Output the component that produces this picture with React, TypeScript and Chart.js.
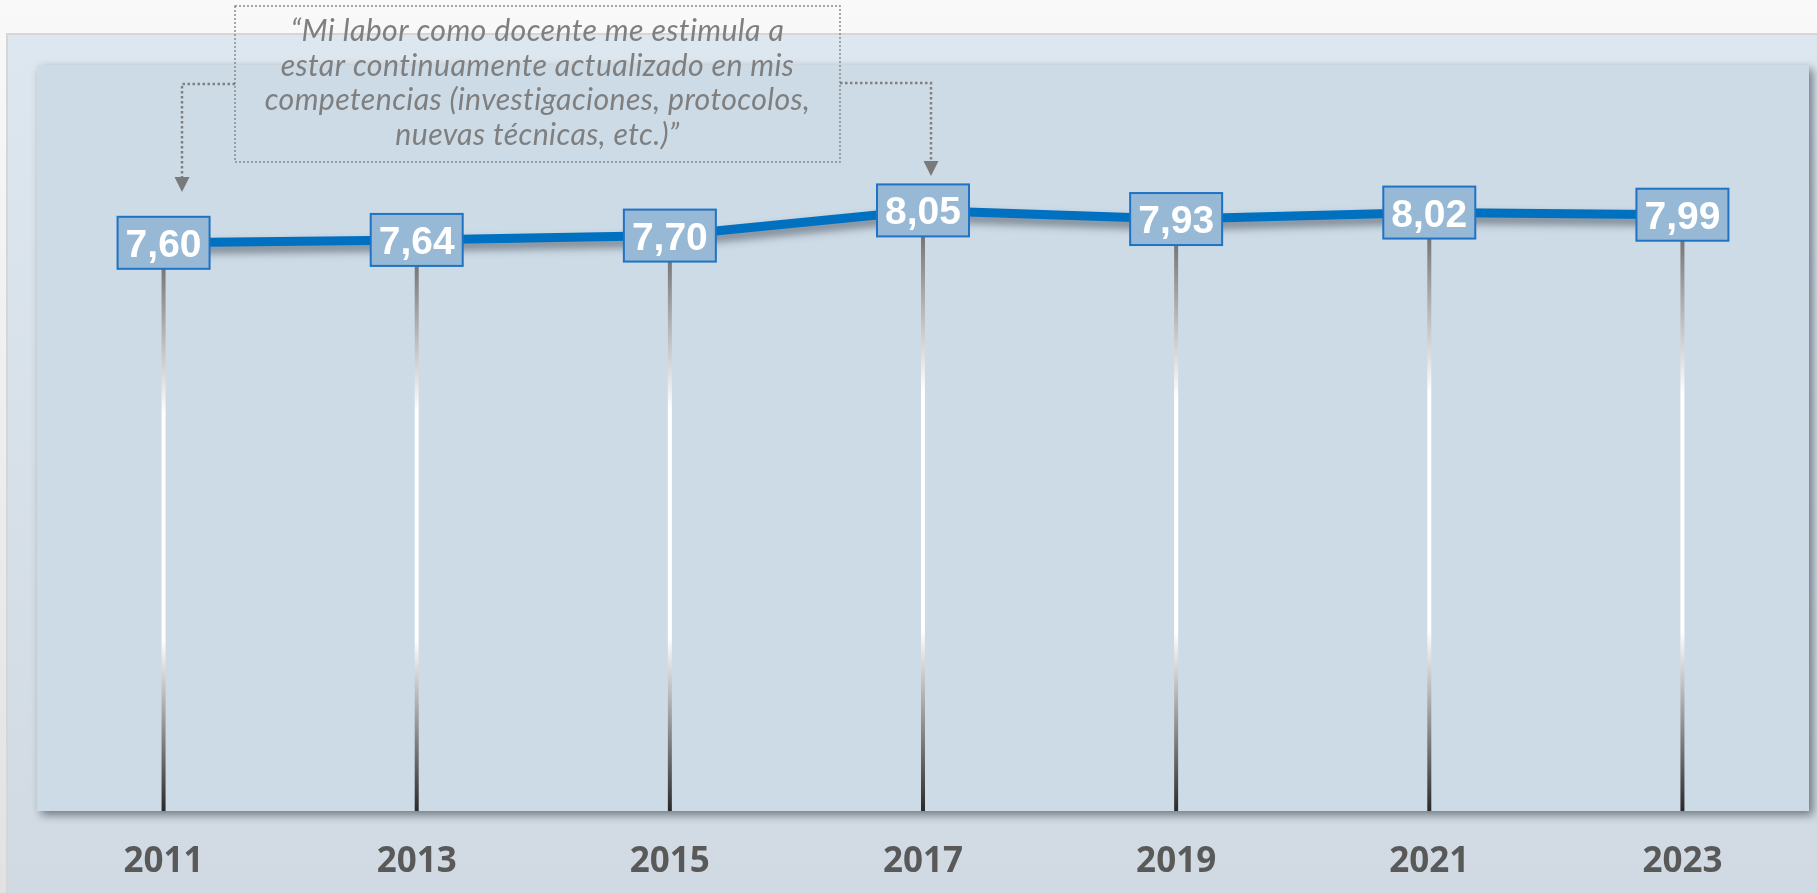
import React, { useEffect, useRef } from "react";
import { Chart, registerables } from "chart.js";

Chart.register(...registerables);

const years = ["2011", "2013", "2015", "2017", "2019", "2021", "2023"];
const scores = [7.6, 7.64, 7.7, 8.05, 7.93, 8.02, 7.99];
const quoteLines = [
  "“Mi labor como docente me estimula a",
  "estar continuamente actualizado en mis",
  "competencias (investigaciones, protocolos,",
  "nuevas técnicas, etc.)”",
];
const yMin = 0;
const yMax = 10;

const W = 1817;
const H = 893;

const fmt = (v: number) => v.toFixed(2).replace(".", ",");

const decorPlugin = {
  id: "decor",
  beforeDraw(chart: any) {
    const ctx = chart.ctx as CanvasRenderingContext2D;
    const { left, right, top, bottom } = chart.chartArea;
    ctx.save();
    let g = ctx.createLinearGradient(0, 0, 0, H);
    g.addColorStop(0, "#f9f9f9");
    g.addColorStop(1, "#e2e2e2");
    ctx.fillStyle = g;
    ctx.fillRect(0, 0, W, H);
    // outer panel
    ctx.fillStyle = "#d6d6d6";
    ctx.fillRect(6, 33, W, H);
    g = ctx.createLinearGradient(0, 35, 0, H);
    g.addColorStop(0, "#dde7f0");
    g.addColorStop(1, "#d1dae2");
    ctx.fillStyle = g;
    ctx.fillRect(8, 35, W, H);
    // inner plot panel
    const pTop = top - 5;
    const pBottom = bottom + 21;
    ctx.shadowColor = "rgba(55,65,75,0.65)";
    ctx.shadowBlur = 9;
    ctx.shadowOffsetX = 4;
    ctx.shadowOffsetY = 4;
    ctx.fillStyle = "#cddbe7";
    ctx.fillRect(left, pTop, right - left, pBottom - pTop);
    ctx.restore();
  },
  beforeDatasetsDraw(chart: any) {
    const ctx = chart.ctx as CanvasRenderingContext2D;
    const pBottom = chart.chartArea.bottom + 21;
    const meta = chart.getDatasetMeta(0);
    ctx.save();
    meta.data.forEach((pt: any) => {
      const g = ctx.createLinearGradient(0, pt.y, 0, pBottom);
      g.addColorStop(0, "#5f5f5f");
      g.addColorStop(0.3, "#ffffff");
      g.addColorStop(0.7, "#ffffff");
      g.addColorStop(1, "#2a2a2a");
      ctx.strokeStyle = g;
      ctx.lineWidth = 4;
      ctx.beginPath();
      ctx.moveTo(pt.x, pt.y);
      ctx.lineTo(pt.x, pBottom);
      ctx.stroke();
    });
    ctx.restore();
  },
  beforeDatasetDraw(chart: any) {
    const ctx = chart.ctx as CanvasRenderingContext2D;
    ctx.save();
    ctx.shadowColor = "rgba(40,50,60,0.55)";
    ctx.shadowBlur = 8;
    ctx.shadowOffsetY = 6;
  },
  afterDatasetDraw(chart: any) {
    chart.ctx.restore();
  },
  afterDatasetsDraw(chart: any) {
    const ctx = chart.ctx as CanvasRenderingContext2D;
    const meta = chart.getDatasetMeta(0);
    const ds = chart.data.datasets[0].data as number[];
    ctx.save();
    meta.data.forEach((pt: any, i: number) => {
      const bw = 92;
      const bh = 52;
      ctx.fillStyle = "#97b9d5";
      ctx.fillRect(pt.x - bw / 2, pt.y - bh / 2, bw, bh);
      ctx.strokeStyle = "#1f73c4";
      ctx.lineWidth = 2;
      ctx.strokeRect(pt.x - bw / 2, pt.y - bh / 2, bw, bh);
      ctx.fillStyle = "#ffffff";
      ctx.font = "bold 39px 'Liberation Sans', Arial, sans-serif";
      ctx.textAlign = "center";
      ctx.textBaseline = "alphabetic";
      ctx.fillText(fmt(ds[i]), pt.x, pt.y + 39 * 0.358);
    });
    ctx.restore();
  },
  afterDraw(chart: any) {
    const ctx = chart.ctx as CanvasRenderingContext2D;
    ctx.save();
    // quote box
    const bx0 = 235, bx1 = 840, by0 = 6, by1 = 162;
    ctx.setLineDash([2, 2]);
    ctx.strokeStyle = "#8a8a8a";
    ctx.lineWidth = 1.5;
    ctx.strokeRect(bx0, by0, bx1 - bx0, by1 - by0);
    // text
    (ctx as any).letterSpacing = "0.4px";
    let size = 28;
    ctx.font = `italic ${size}px Lato, 'Open Sans', sans-serif`;
    const wRef = ctx.measureText(quoteLines[2]).width;
    size = (size * 547) / wRef;
    ctx.font = `italic ${size}px Lato, 'Open Sans', sans-serif`;
    ctx.fillStyle = "#7f7f7f";
    ctx.textAlign = "center";
    ctx.textBaseline = "alphabetic";
    const cx = (bx0 + bx1) / 2;
    const baselines = [41, 76, 110, 145];
    quoteLines.forEach((t, i) => ctx.fillText(t, cx, baselines[i]));
    (ctx as any).letterSpacing = "0px";
    // connectors
    ctx.strokeStyle = "#808080";
    ctx.lineWidth = 2.5;
    ctx.setLineDash([2.5, 2.5]);
    const arrow = (xa: number, yTop: number) => {
      ctx.setLineDash([]);
      ctx.fillStyle = "#7a7a7a";
      ctx.beginPath();
      ctx.moveTo(xa - 7.5, yTop);
      ctx.lineTo(xa + 7.5, yTop);
      ctx.lineTo(xa, yTop + 15);
      ctx.closePath();
      ctx.fill();
      ctx.setLineDash([2.5, 2.5]);
    };
    // left
    ctx.beginPath();
    ctx.moveTo(bx0, 84);
    ctx.lineTo(182, 84);
    ctx.lineTo(182, 177);
    ctx.stroke();
    arrow(182, 177);
    // right
    ctx.beginPath();
    ctx.moveTo(bx1, 83);
    ctx.lineTo(931, 83);
    ctx.lineTo(931, 161);
    ctx.stroke();
    arrow(931, 161);
    ctx.restore();
  },
};

export default function App() {
  const ref = useRef<HTMLCanvasElement | null>(null);
  useEffect(() => {
    if (!ref.current) return;
    const chart = new Chart(ref.current, {
      type: "line",
      data: {
        labels: years,
        datasets: [
          {
            data: scores,
            borderColor: "#0070c0",
            borderWidth: 9,
            pointRadius: 0,
            pointHoverRadius: 0,
            tension: 0,
            fill: false,
            borderJoinStyle: "round",
          },
        ],
      },
      options: {
        animation: false,
        responsive: false,
        devicePixelRatio: 1,
        layout: { padding: { left: 37, right: 8, top: 70, bottom: 0 } },
        plugins: { legend: { display: false }, tooltip: { enabled: false } },
        scales: {
          x: {
            offset: true,
            grid: { display: false, drawTicks: false },
            border: { display: false },
            ticks: {
              color: "#595959",
              padding: 51,
              font: { family: "'Open Sans', sans-serif", size: 35, weight: "bold" },
            },
            afterFit: (s: any) => {
              s.height = 103;
            },
          },
          y: { display: false, min: yMin, max: yMax },
        },
      },
      plugins: [decorPlugin],
    } as any);
    return () => chart.destroy();
  }, []);
  return (
    <div style={{ position: "absolute", left: 0, top: 0, width: W, height: H }}>
      <canvas ref={ref} width={W} height={H} style={{ display: "block" }} />
    </div>
  );
}
